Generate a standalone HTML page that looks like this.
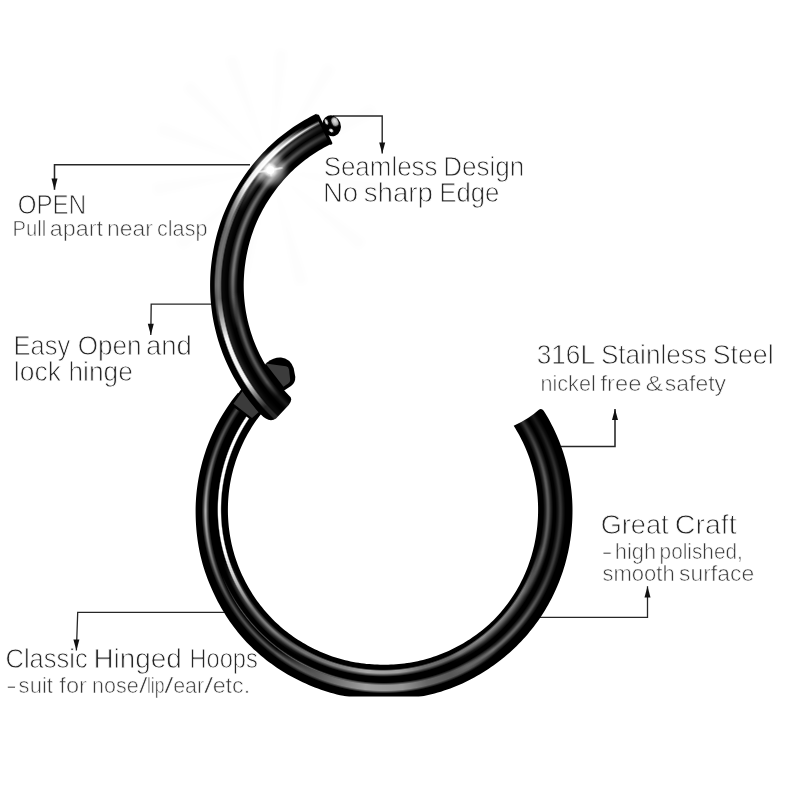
<!DOCTYPE html>
<html><head><meta charset="utf-8"><title>Hinged Hoop</title>
<style>html,body{margin:0;padding:0;background:#fff}body{width:800px;height:800px;position:relative;overflow:hidden;font-family:"Liberation Sans",sans-serif}</style>
</head><body>
<svg width="800" height="800" viewBox="0 0 800 800" style="position:absolute;left:0;top:0"><defs>
<filter id="b1" x="-10%" y="-10%" width="120%" height="120%"><feGaussianBlur stdDeviation="1.3"/></filter>
<filter id="b07" x="-10%" y="-10%" width="120%" height="120%"><feGaussianBlur stdDeviation="0.7"/></filter>
<filter id="b05" x="-20%" y="-20%" width="140%" height="140%"><feGaussianBlur stdDeviation="0.5"/></filter>
<filter id="b3" x="-50%" y="-50%" width="200%" height="200%"><feGaussianBlur stdDeviation="3"/></filter>
<radialGradient id="ball" cx="0.38" cy="0.32" r="0.75"><stop offset="0" stop-color="#8a8a8a"/><stop offset="0.35" stop-color="#3a3a3a"/><stop offset="0.7" stop-color="#0a0a0a"/><stop offset="1" stop-color="#000"/></radialGradient>
<radialGradient id="bh" cx="0.55" cy="0.4" r="0.7"><stop offset="0" stop-color="#e8e8e8"/><stop offset="0.6" stop-color="#b0b0b0"/><stop offset="1" stop-color="#6a6a6a"/></radialGradient>
</defs><g opacity="0.009" filter="url(#b3)" transform="translate(271,169)"><path d="M0 0L-114.8 -35.1L-110.5 -46.9Z" fill="#000"/><path d="M0 0L-89.2 -80.3L-80.3 -89.2Z" fill="#000"/><path d="M0 0L-46.9 -110.5L-35.1 -114.8Z" fill="#000"/><path d="M0 0L4.2 -119.9L16.7 -118.8Z" fill="#000"/><path d="M0 0L54.5 -106.9L65.4 -100.6Z" fill="#000"/><path d="M0 0L100.6 -65.4L106.9 -54.5Z" fill="#000"/><path d="M0 0L119.1 14.6L116.9 27.0Z" fill="#000"/><path d="M0 0L95.8 72.2L87.8 81.8Z" fill="#000"/><path d="M0 0L37.1 114.1L24.9 117.4Z" fill="#000"/><path d="M0 0L-24.9 117.4L-37.1 114.1Z" fill="#000"/><path d="M0 0L-87.8 81.8L-95.8 72.2Z" fill="#000"/><path d="M0 0L-116.9 27.0L-119.1 14.6Z" fill="#000"/></g><path d="M250 164.8 L54.5 164.8 L54.5 189.8" fill="none" stroke="#262626" stroke-width="1.55"/><path d="M51.5 178.60000000000002L57.5 178.60000000000002L54.5 189.8Z" fill="#111"/><path d="M216 304.1 L151.2 304.1 L150.8 335" fill="none" stroke="#262626" stroke-width="1.35"/><path d="M147.8 323.8L153.8 323.8L150.8 335Z" fill="#111"/><path d="M333 116.0 L382.2 116.0 L382.2 153.6" fill="none" stroke="#262626" stroke-width="1.4"/><path d="M379.2 142.4L385.2 142.4L382.2 153.6Z" fill="#111"/><path d="M555 446.4 L615.0 446.4 L615.0 408.9" fill="none" stroke="#262626" stroke-width="1.55"/><path d="M612.0 420.09999999999997L618.0 420.09999999999997L615.0 408.9Z" fill="#111"/><path d="M533 617.4 L647.5 617.4 L647.5 586.2" fill="none" stroke="#262626" stroke-width="1.3"/><path d="M644.5 597.4000000000001L650.5 597.4000000000001L647.5 586.2Z" fill="#111"/><path d="M233 612.4 L77.7 612.4 L76.4 650.6" fill="none" stroke="#262626" stroke-width="1.3"/><path d="M73.4 639.4L79.4 639.4L76.4 650.6Z" fill="#111"/><clipPath id="crop"><rect x="0" y="0" width="800" height="696.6"/></clipPath><path d="M543.68 410.63L545.40 413.42L547.07 416.24L548.69 419.09L550.26 421.97L551.78 424.88L553.25 427.81L554.66 430.76L556.03 433.74L557.34 436.75L558.61 439.77L559.82 442.82L560.97 445.89L562.07 448.98L563.12 452.08L564.12 455.20L565.05 458.35L565.94 461.50L566.77 464.67L567.54 467.86L568.26 471.06L568.93 474.27L569.53 477.49L570.08 480.72L570.58 483.96L571.02 487.21L571.40 490.47L571.73 493.73L571.99 496.99L572.21 500.27L572.36 503.54L572.46 506.82L572.50 510.10L572.48 513.37L572.41 516.65L572.29 519.93L572.11 523.20L571.88 526.47L571.59 529.74L571.24 533.00L570.85 536.25L570.39 539.50L569.88 542.74L569.32 545.97L568.70 549.19L568.03 552.41L567.30 555.61L566.52 558.79L565.69 561.97L564.79 565.13L563.85 568.27L562.85 571.40L561.80 574.51L560.69 577.60L559.53 580.68L558.31 583.73L557.05 586.76L555.73 589.77L554.35 592.76L552.93 595.72L551.45 598.66L549.92 601.57L548.34 604.46L546.71 607.32L545.03 610.14L543.30 612.94L541.52 615.71L539.69 618.45L537.81 621.15L535.88 623.82L533.91 626.45L531.89 629.05L529.82 631.61L527.70 634.14L525.54 636.63L523.34 639.07L521.09 641.48L518.80 643.85L516.47 646.17L514.09 648.46L511.68 650.70L509.23 652.90L506.75 655.06L504.23 657.18L501.67 659.26L499.07 661.29L496.44 663.28L493.78 665.22L491.09 667.11L488.36 668.96L485.60 670.76L482.81 672.52L479.99 674.22L477.14 675.87L474.26 677.48L471.35 679.03L468.42 680.53L465.45 681.98L462.47 683.38L459.46 684.73L456.42 686.02L453.37 687.25L450.29 688.43L447.19 689.56L444.07 690.62L440.93 691.63L437.77 692.57L434.59 693.46L431.40 694.28L428.20 695.05L424.98 695.76L421.75 696.41L418.51 697.00L415.26 697.53L412.00 698.01L408.74 698.43L405.47 698.80L402.19 699.12L398.91 699.38L395.63 699.58L392.34 699.74L389.06 699.84L385.77 699.89L382.48 699.89L379.19 699.85L375.90 699.75L372.62 699.60L369.33 699.41L366.05 699.16L362.78 698.85L359.50 698.50L356.24 698.08L352.98 697.62L349.72 697.09L346.48 696.51L343.25 695.87L340.03 695.18L336.82 694.42L333.62 693.61L330.44 692.73L327.28 691.79L324.14 690.80L321.01 689.74L317.91 688.62L314.83 687.44L311.76 686.22L308.72 684.94L305.70 683.62L302.70 682.25L299.72 680.82L296.77 679.35L293.84 677.82L290.94 676.25L288.06 674.63L285.22 672.95L282.40 671.23L279.61 669.46L276.85 667.64L274.13 665.77L271.44 663.85L268.78 661.89L266.16 659.88L263.57 657.82L261.02 655.72L258.51 653.57L256.04 651.37L253.61 649.13L251.22 646.84L248.88 644.52L246.58 642.14L244.33 639.72L242.12 637.26L239.97 634.75L237.86 632.20L235.81 629.62L233.80 626.99L231.84 624.33L229.94 621.64L228.08 618.91L226.27 616.15L224.51 613.36L222.81 610.54L221.15 607.69L219.54 604.81L217.97 601.91L216.46 598.99L215.00 596.04L213.58 593.07L212.21 590.07L210.89 587.06L209.62 584.03L208.39 580.98L207.21 577.91L206.07 574.82L204.99 571.72L203.97 568.59L203.02 565.44L202.12 562.28L201.29 559.10L200.52 555.90L199.81 552.70L199.16 549.48L198.56 546.25L198.03 543.01L197.55 539.76L197.12 536.51L196.75 533.25L196.43 529.98L196.17 526.71L195.96 523.44L195.79 520.17L195.68 516.89L195.62 513.62L195.60 510.34L195.64 507.07L195.74 503.79L195.90 500.52L196.12 497.25L196.40 493.99L196.74 490.73L197.14 487.48L197.59 484.23L198.10 481.00L198.67 477.78L199.30 474.56L199.98 471.36L200.71 468.17L201.50 464.99L202.34 461.83L203.23 458.69L204.18 455.55L205.18 452.44L206.22 449.34L207.32 446.26L208.47 443.19L209.68 440.15L210.94 437.14L212.26 434.14L213.63 431.17L215.06 428.23L216.53 425.31L218.06 422.42L219.64 419.56L221.28 416.73L222.96 413.93L224.69 411.15L226.46 408.41L228.29 405.70L230.16 403.02L232.07 400.37L234.03 397.76L236.04 395.18L238.08 392.64L262.66 411.99L260.97 414.10L259.32 416.24L257.71 418.41L256.14 420.61L254.60 422.84L253.10 425.09L251.65 427.37L250.23 429.67L248.85 432.00L247.51 434.35L246.21 436.72L244.96 439.12L243.75 441.54L242.58 443.98L241.45 446.43L240.36 448.91L239.32 451.41L238.32 453.92L237.37 456.46L236.45 459.00L235.59 461.57L234.77 464.15L233.99 466.74L233.26 469.34L232.58 471.96L231.94 474.59L231.35 477.23L230.80 479.88L230.30 482.54L229.85 485.21L229.44 487.89L229.08 490.57L228.77 493.26L228.51 495.96L228.29 498.65L228.12 501.36L228.00 504.06L227.93 506.77L227.90 509.47L227.92 512.18L227.98 514.89L228.09 517.59L228.25 520.30L228.45 523.00L228.69 525.69L228.98 528.39L229.32 531.07L229.70 533.75L230.13 536.43L230.61 539.10L231.13 541.75L231.70 544.40L232.32 547.04L232.98 549.67L233.70 552.28L234.45 554.89L235.26 557.48L236.11 560.05L237.01 562.60L237.96 565.15L238.95 567.67L239.98 570.18L241.05 572.67L242.16 575.14L243.32 577.59L244.52 580.02L245.76 582.43L247.04 584.82L248.36 587.19L249.72 589.54L251.13 591.86L252.57 594.15L254.06 596.42L255.58 598.67L257.14 600.89L258.74 603.08L260.38 605.24L262.06 607.37L263.78 609.47L265.53 611.54L267.32 613.58L269.15 615.59L271.01 617.56L272.91 619.50L274.84 621.41L276.81 623.28L278.81 625.11L280.85 626.91L282.92 628.66L285.02 630.39L287.14 632.07L289.30 633.71L291.49 635.32L293.70 636.88L295.95 638.41L298.22 639.90L300.51 641.34L302.83 642.75L305.17 644.11L307.53 645.44L309.92 646.72L312.33 647.97L314.76 649.17L317.21 650.33L319.67 651.45L322.16 652.52L324.66 653.56L327.18 654.55L329.72 655.51L332.27 656.42L334.84 657.28L337.42 658.09L340.02 658.85L342.64 659.57L345.26 660.23L347.90 660.85L350.54 661.42L353.20 661.95L355.86 662.43L358.53 662.86L361.21 663.24L363.90 663.58L366.59 663.88L369.28 664.12L371.98 664.33L374.68 664.49L377.38 664.60L380.08 664.67L382.78 664.70L385.49 664.69L388.19 664.63L390.89 664.54L393.59 664.40L396.29 664.22L398.99 664.00L401.68 663.73L404.37 663.42L407.06 663.06L409.73 662.66L412.40 662.21L415.07 661.72L417.72 661.17L420.37 660.58L423.00 659.94L425.62 659.25L428.23 658.51L430.83 657.71L433.40 656.87L435.97 655.98L438.51 655.04L441.04 654.06L443.55 653.04L446.05 651.98L448.53 650.88L450.99 649.73L453.43 648.55L455.86 647.33L458.26 646.06L460.64 644.76L463.00 643.41L465.33 642.03L467.65 640.60L469.93 639.13L472.20 637.62L474.43 636.08L476.64 634.49L478.82 632.86L480.96 631.19L483.08 629.49L485.17 627.74L487.22 625.96L489.24 624.14L491.23 622.28L493.18 620.38L495.09 618.44L496.97 616.47L498.81 614.47L500.61 612.43L502.38 610.36L504.10 608.26L505.79 606.12L507.43 603.96L509.04 601.76L510.61 599.54L512.13 597.29L513.62 595.01L515.06 592.71L516.46 590.38L517.82 588.03L519.13 585.65L520.41 583.25L521.63 580.83L522.82 578.39L523.96 575.93L525.06 573.45L526.12 570.95L527.13 568.44L528.09 565.90L529.02 563.36L529.89 560.79L530.73 558.22L531.52 555.63L532.26 553.02L532.96 550.41L533.61 547.78L534.22 545.15L534.79 542.50L535.31 539.85L535.78 537.19L536.22 534.52L536.60 531.85L536.94 529.17L537.24 526.48L537.49 523.79L537.70 521.10L537.87 518.40L537.99 515.70L538.07 513.00L538.10 510.30L538.09 507.60L538.03 504.90L537.93 502.21L537.78 499.51L537.58 496.82L537.34 494.13L537.05 491.44L536.71 488.76L536.33 486.09L535.90 483.42L535.43 480.76L534.91 478.11L534.34 475.47L533.73 472.84L533.07 470.22L532.37 467.61L531.62 465.02L530.83 462.43L529.99 459.87L529.11 457.31L528.19 454.77L527.21 452.25L526.20 449.75L525.14 447.26L524.04 444.79L522.89 442.34L521.71 439.92L520.48 437.51L519.21 435.12L517.89 432.76L516.54 430.42L515.14 428.11L513.70 425.82Q529.05 418.81 538.56 410.04Q541.30 407.47 543.68 410.63Z" fill="#000" clip-path="url(#crop)"/></svg>
<div style="position:absolute;left:0;top:0;width:800px;height:696.6px;overflow:hidden"><div style="position:absolute;left:201.70px;top:328.50px;width:364.60px;height:364.60px;background:conic-gradient(from 57.0deg at 50% 50%,rgba(255,255,255,0.100) 0deg,rgba(255,255,255,0.100) 2.0deg,rgba(255,255,255,0.200) 23.0deg,rgba(255,255,255,0.240) 53.0deg,rgba(255,255,255,0.400) 73.0deg,rgba(255,255,255,0.420) 85.0deg,rgba(255,255,255,0.000) 101.0deg,rgba(255,255,255,0) 101.5deg,rgba(255,255,255,0) 360deg);-webkit-mask-image:radial-gradient(circle at 50% 50%,rgba(0,0,0,0) 0px,rgba(0,0,0,0.000) 171.70px,rgba(0,0,0,0.450) 174.10px,rgba(0,0,0,0.930) 175.78px,rgba(0,0,0,1.000) 176.50px,rgba(0,0,0,0.930) 177.22px,rgba(0,0,0,0.450) 178.90px,rgba(0,0,0,0.000) 181.30px);mask-image:radial-gradient(circle at 50% 50%,rgba(0,0,0,0) 0px,rgba(0,0,0,0.000) 171.70px,rgba(0,0,0,0.450) 174.10px,rgba(0,0,0,0.930) 175.78px,rgba(0,0,0,1.000) 176.50px,rgba(0,0,0,0.930) 177.22px,rgba(0,0,0,0.450) 178.90px,rgba(0,0,0,0.000) 181.30px);"></div><div style="position:absolute;left:200.70px;top:327.50px;width:366.60px;height:366.60px;background:conic-gradient(from 57.0deg at 50% 50%,rgba(255,255,255,0.000) 0deg,rgba(255,255,255,0.000) 83.0deg,rgba(255,255,255,0.300) 95.0deg,rgba(255,255,255,0.400) 109.0deg,rgba(255,255,255,0.580) 117.0deg,rgba(255,255,255,0.620) 129.0deg,rgba(255,255,255,0.480) 137.0deg,rgba(255,255,255,0.250) 151.0deg,rgba(255,255,255,0.000) 161.0deg,rgba(255,255,255,0) 161.5deg,rgba(255,255,255,0) 360deg);-webkit-mask-image:radial-gradient(circle at 50% 50%,rgba(0,0,0,0) 0px,rgba(0,0,0,0.000) 171.50px,rgba(0,0,0,0.500) 172.90px,rgba(0,0,0,1.000) 174.30px,rgba(0,0,0,1.000) 179.50px,rgba(0,0,0,0.500) 180.90px,rgba(0,0,0,0.000) 182.30px);mask-image:radial-gradient(circle at 50% 50%,rgba(0,0,0,0) 0px,rgba(0,0,0,0.000) 171.50px,rgba(0,0,0,0.500) 172.90px,rgba(0,0,0,1.000) 174.30px,rgba(0,0,0,1.000) 179.50px,rgba(0,0,0,0.500) 180.90px,rgba(0,0,0,0.000) 182.30px);"></div><div style="position:absolute;left:200.70px;top:327.50px;width:366.60px;height:366.60px;background:conic-gradient(from 57.0deg at 50% 50%,rgba(255,255,255,0.000) 0deg,rgba(255,255,255,0.000) 145.0deg,rgba(255,255,255,0.330) 159.0deg,rgba(255,255,255,0.300) 183.0deg,rgba(255,255,255,0.480) 198.0deg,rgba(255,255,255,0.680) 213.0deg,rgba(255,255,255,0.380) 231.0deg,rgba(255,255,255,0.260) 249.0deg,rgba(255,255,255,0) 249.5deg,rgba(255,255,255,0) 360deg);-webkit-mask-image:radial-gradient(circle at 50% 50%,rgba(0,0,0,0) 0px,rgba(0,0,0,0.000) 174.70px,rgba(0,0,0,0.450) 176.60px,rgba(0,0,0,0.930) 177.93px,rgba(0,0,0,1.000) 178.50px,rgba(0,0,0,0.930) 179.07px,rgba(0,0,0,0.450) 180.40px,rgba(0,0,0,0.000) 182.30px);mask-image:radial-gradient(circle at 50% 50%,rgba(0,0,0,0) 0px,rgba(0,0,0,0.000) 174.70px,rgba(0,0,0,0.450) 176.60px,rgba(0,0,0,0.930) 177.93px,rgba(0,0,0,1.000) 178.50px,rgba(0,0,0,0.930) 179.07px,rgba(0,0,0,0.450) 180.40px,rgba(0,0,0,0.000) 182.30px);"></div><div style="position:absolute;left:212.50px;top:338.90px;width:341.40px;height:341.40px;background:conic-gradient(from 57.0deg at 50% 50%,rgba(255,255,255,0.200) 0deg,rgba(255,255,255,0.200) 2.0deg,rgba(255,255,255,0.360) 23.0deg,rgba(255,255,255,0.360) 48.0deg,rgba(255,255,255,0.000) 65.0deg,rgba(255,255,255,0) 65.5deg,rgba(255,255,255,0) 360deg);-webkit-mask-image:radial-gradient(circle at 50% 50%,rgba(0,0,0,0) 0px,rgba(0,0,0,0.000) 159.70px,rgba(0,0,0,0.450) 162.10px,rgba(0,0,0,0.930) 163.78px,rgba(0,0,0,1.000) 164.50px,rgba(0,0,0,0.930) 165.28px,rgba(0,0,0,0.450) 167.10px,rgba(0,0,0,0.000) 169.70px);mask-image:radial-gradient(circle at 50% 50%,rgba(0,0,0,0) 0px,rgba(0,0,0,0.000) 159.70px,rgba(0,0,0,0.450) 162.10px,rgba(0,0,0,0.930) 163.78px,rgba(0,0,0,1.000) 164.50px,rgba(0,0,0,0.930) 165.28px,rgba(0,0,0,0.450) 167.10px,rgba(0,0,0,0.000) 169.70px);"></div><div style="position:absolute;left:213.10px;top:339.50px;width:340.20px;height:340.20px;background:conic-gradient(from 57.0deg at 50% 50%,rgba(255,255,255,0.000) 0deg,rgba(255,255,255,0.000) 45.0deg,rgba(255,255,255,0.480) 63.0deg,rgba(255,255,255,0.540) 85.0deg,rgba(255,255,255,0.000) 99.0deg,rgba(255,255,255,0) 99.5deg,rgba(255,255,255,0) 360deg);-webkit-mask-image:radial-gradient(circle at 50% 50%,rgba(0,0,0,0) 0px,rgba(0,0,0,0.000) 159.30px,rgba(0,0,0,0.600) 160.30px,rgba(0,0,0,1.000) 161.30px,rgba(0,0,0,0.800) 163.10px,rgba(0,0,0,0.350) 166.10px,rgba(0,0,0,0.000) 169.10px);mask-image:radial-gradient(circle at 50% 50%,rgba(0,0,0,0) 0px,rgba(0,0,0,0.000) 159.30px,rgba(0,0,0,0.600) 160.30px,rgba(0,0,0,1.000) 161.30px,rgba(0,0,0,0.800) 163.10px,rgba(0,0,0,0.350) 166.10px,rgba(0,0,0,0.000) 169.10px);"></div><div style="position:absolute;left:214.90px;top:341.30px;width:336.60px;height:336.60px;background:conic-gradient(from 57.0deg at 50% 50%,rgba(255,255,255,0.000) 0deg,rgba(255,255,255,0.000) 83.0deg,rgba(255,255,255,0.380) 95.0deg,rgba(255,255,255,0.440) 109.0deg,rgba(255,255,255,0.620) 117.0deg,rgba(255,255,255,0.660) 129.0deg,rgba(255,255,255,0.520) 137.0deg,rgba(255,255,255,0.420) 151.0deg,rgba(255,255,255,0.000) 165.0deg,rgba(255,255,255,0) 165.5deg,rgba(255,255,255,0) 360deg);-webkit-mask-image:radial-gradient(circle at 50% 50%,rgba(0,0,0,0) 0px,rgba(0,0,0,0.000) 159.90px,rgba(0,0,0,0.500) 160.70px,rgba(0,0,0,1.000) 161.50px,rgba(0,0,0,1.000) 163.70px,rgba(0,0,0,0.500) 165.50px,rgba(0,0,0,0.000) 167.30px);mask-image:radial-gradient(circle at 50% 50%,rgba(0,0,0,0) 0px,rgba(0,0,0,0.000) 159.90px,rgba(0,0,0,0.500) 160.70px,rgba(0,0,0,1.000) 161.50px,rgba(0,0,0,1.000) 163.70px,rgba(0,0,0,0.500) 165.50px,rgba(0,0,0,0.000) 167.30px);"></div><div style="position:absolute;left:212.50px;top:338.90px;width:341.40px;height:341.40px;background:conic-gradient(from 57.0deg at 50% 50%,rgba(255,255,255,0.000) 0deg,rgba(255,255,255,0.000) 149.0deg,rgba(255,255,255,0.500) 165.0deg,rgba(255,255,255,0.460) 178.0deg,rgba(255,255,255,0.460) 186.0deg,rgba(255,255,255,0.000) 195.0deg,rgba(255,255,255,0) 195.5deg,rgba(255,255,255,0) 360deg);-webkit-mask-image:radial-gradient(circle at 50% 50%,rgba(0,0,0,0) 0px,rgba(0,0,0,0.000) 160.30px,rgba(0,0,0,0.450) 162.00px,rgba(0,0,0,0.930) 163.19px,rgba(0,0,0,1.000) 163.70px,rgba(0,0,0,0.930) 164.60px,rgba(0,0,0,0.450) 166.70px,rgba(0,0,0,0.000) 169.70px);mask-image:radial-gradient(circle at 50% 50%,rgba(0,0,0,0) 0px,rgba(0,0,0,0.000) 160.30px,rgba(0,0,0,0.450) 162.00px,rgba(0,0,0,0.930) 163.19px,rgba(0,0,0,1.000) 163.70px,rgba(0,0,0,0.930) 164.60px,rgba(0,0,0,0.450) 166.70px,rgba(0,0,0,0.000) 169.70px);"></div><div style="position:absolute;left:206.80px;top:333.20px;width:352.80px;height:352.80px;background:conic-gradient(from 57.0deg at 50% 50%,rgba(255,255,255,0.000) 0deg,rgba(255,255,255,0.000) 128.0deg,rgba(255,255,255,0.280) 151.0deg,rgba(255,255,255,0.300) 178.0deg,rgba(255,255,255,0.000) 191.0deg,rgba(255,255,255,0) 191.5deg,rgba(255,255,255,0) 360deg);-webkit-mask-image:radial-gradient(circle at 50% 50%,rgba(0,0,0,0) 0px,rgba(0,0,0,0.000) 173.20px,rgba(0,0,0,0.450) 173.75px,rgba(0,0,0,0.930) 174.13px,rgba(0,0,0,1.000) 174.30px,rgba(0,0,0,0.930) 174.46px,rgba(0,0,0,0.450) 174.85px,rgba(0,0,0,0.000) 175.40px);mask-image:radial-gradient(circle at 50% 50%,rgba(0,0,0,0) 0px,rgba(0,0,0,0.000) 173.20px,rgba(0,0,0,0.450) 173.75px,rgba(0,0,0,0.930) 174.13px,rgba(0,0,0,1.000) 174.30px,rgba(0,0,0,0.930) 174.46px,rgba(0,0,0,0.450) 174.85px,rgba(0,0,0,0.000) 175.40px);"></div><div style="position:absolute;left:216.35px;top:342.75px;width:333.70px;height:333.70px;background:conic-gradient(from 57.0deg at 50% 50%,rgba(255,255,255,0.000) 0deg,rgba(255,255,255,0.000) 175.0deg,rgba(255,255,255,0.350) 183.0deg,rgba(255,255,255,0.800) 190.0deg,rgba(255,255,255,1.000) 198.0deg,rgba(255,255,255,1.000) 247.0deg,rgba(255,255,255,0.700) 250.0deg,rgba(255,255,255,0) 250.5deg,rgba(255,255,255,0) 360deg);-webkit-mask-image:radial-gradient(circle at 50% 50%,rgba(0,0,0,0) 0px,rgba(0,0,0,0.000) 161.35px,rgba(0,0,0,0.500) 161.97px,rgba(0,0,0,1.000) 162.60px,rgba(0,0,0,1.000) 164.60px,rgba(0,0,0,0.500) 165.22px,rgba(0,0,0,0.000) 165.85px);mask-image:radial-gradient(circle at 50% 50%,rgba(0,0,0,0) 0px,rgba(0,0,0,0.000) 161.35px,rgba(0,0,0,0.500) 161.97px,rgba(0,0,0,1.000) 162.60px,rgba(0,0,0,1.000) 164.60px,rgba(0,0,0,0.500) 165.22px,rgba(0,0,0,0.000) 165.85px);"></div></div>
<svg width="800" height="800" viewBox="0 0 800 800" style="position:absolute;left:0;top:0"><defs>
<filter id="b1" x="-10%" y="-10%" width="120%" height="120%"><feGaussianBlur stdDeviation="1.3"/></filter>
<filter id="b07" x="-10%" y="-10%" width="120%" height="120%"><feGaussianBlur stdDeviation="0.7"/></filter>
<filter id="b05" x="-20%" y="-20%" width="140%" height="140%"><feGaussianBlur stdDeviation="0.5"/></filter>
<filter id="b3" x="-50%" y="-50%" width="200%" height="200%"><feGaussianBlur stdDeviation="3"/></filter>
<radialGradient id="ball" cx="0.38" cy="0.32" r="0.75"><stop offset="0" stop-color="#8a8a8a"/><stop offset="0.35" stop-color="#3a3a3a"/><stop offset="0.7" stop-color="#0a0a0a"/><stop offset="1" stop-color="#000"/></radialGradient>
<radialGradient id="bh" cx="0.55" cy="0.4" r="0.7"><stop offset="0" stop-color="#e8e8e8"/><stop offset="0.6" stop-color="#b0b0b0"/><stop offset="1" stop-color="#6a6a6a"/></radialGradient>
</defs><path d="M230.5 404.5L242.5 387.5L263 412L253 421.5Z" fill="#000"/><path d="M233.5 403.7L243 390.5L260 411L252 418Z" fill="#3b3b3b"/><path d="M262 368L267 362.5Q274 357.2 281 357.6Q290 358.6 293.6 368L295.3 377Q295.4 383 291 386L281 392.5Z" fill="#000"/><path d="M265.5 363.6L286 366.2Q288.6 366.8 289 369.5L290.2 380Q290.2 382.2 288.2 383.6L283.5 386.8Z" fill="#3c3c3c"/><path d="M316.33 113.81L313.36 115.29L310.41 116.83L307.49 118.42L304.60 120.06L301.73 121.75L298.90 123.49L296.10 125.27L293.32 127.10L290.58 128.98L287.87 130.91L285.20 132.89L282.57 134.92L279.98 137.00L277.42 139.12L274.91 141.30L272.44 143.52L270.01 145.78L267.62 148.09L265.27 150.44L262.97 152.83L260.71 155.26L258.49 157.73L256.32 160.23L254.19 162.78L252.11 165.35L250.07 167.97L248.07 170.61L246.12 173.29L244.21 176.00L242.35 178.74L240.53 181.51L238.76 184.31L237.03 187.13L235.34 189.98L233.70 192.86L232.12 195.77L230.59 198.70L229.12 201.67L227.70 204.66L226.33 207.68L225.03 210.72L223.77 213.78L222.57 216.87L221.43 219.97L220.35 223.10L219.31 226.24L218.34 229.40L217.42 232.58L216.55 235.77L215.74 238.97L214.98 242.19L214.28 245.42L213.63 248.66L213.04 251.91L212.50 255.17L212.02 258.44L211.59 261.71L211.21 265.00L210.88 268.28L210.61 271.57L210.40 274.87L210.24 278.17L210.14 281.47L210.10 284.77L210.12 288.08L210.19 291.38L210.32 294.68L210.51 297.98L210.76 301.27L211.06 304.56L211.42 307.84L211.84 311.12L212.31 314.39L212.85 317.65L213.43 320.90L214.08 324.14L214.78 327.36L215.54 330.58L216.35 333.78L217.22 336.97L218.14 340.14L219.12 343.29L220.16 346.43L221.25 349.55L222.39 352.65L223.58 355.72L224.83 358.78L226.14 361.82L227.49 364.83L228.90 367.82L230.36 370.78L231.87 373.72L233.43 376.63L235.05 379.51L236.71 382.36L238.42 385.19L240.18 387.98L241.99 390.74L243.85 393.48L245.75 396.17L247.71 398.84L249.70 401.47L251.75 404.07L253.83 406.62L255.97 409.15L258.14 411.63L260.36 414.08Q268.84 423.39 276.08 418.53L288.74 404.90Q293.66 398.82 289.01 395.42L287.11 393.48L285.24 391.50L283.41 389.48L281.62 387.44L279.86 385.37L278.13 383.26L276.45 381.13L274.80 378.96L273.19 376.77L271.61 374.55L270.08 372.30L268.59 370.03L267.13 367.73L265.72 365.41L264.35 363.06L263.02 360.69L261.73 358.29L260.48 355.88L259.27 353.44L258.11 350.98L256.99 348.50L255.91 346.00L254.88 343.49L253.89 340.95L252.94 338.40L252.04 335.83L251.19 333.25L250.38 330.66L249.61 328.05L248.89 325.42L248.22 322.79L247.59 320.14L247.01 317.48L246.48 314.81L245.99 312.14L245.55 309.45L245.16 306.76L244.81 304.07L244.51 301.36L244.26 298.65L244.05 295.94L243.89 293.23L243.78 290.51L243.72 287.79L243.70 285.07L243.73 282.35L243.81 279.63L243.94 276.91L244.11 274.20L244.33 271.49L244.60 268.78L244.90 266.08L245.25 263.38L245.65 260.69L246.09 258.00L246.57 255.32L247.10 252.65L247.67 249.99L248.28 247.34L248.94 244.70L249.65 242.07L250.40 239.45L251.20 236.84L252.04 234.25L252.93 231.67L253.87 229.11L254.85 226.57L255.87 224.04L256.95 221.53L258.06 219.05L259.23 216.58L260.44 214.13L261.70 211.71L263.00 209.31L264.35 206.94L265.73 204.59L267.16 202.26L268.61 199.95L270.11 197.67L271.64 195.41L273.21 193.17L274.81 190.96L276.45 188.78L278.12 186.62L279.84 184.49L281.59 182.39L283.37 180.31L285.19 178.27L287.05 176.26L288.94 174.29L290.87 172.34L292.83 170.44L294.83 168.56L296.87 166.73L298.94 164.93L301.04 163.18L303.17 161.46L305.34 159.78L307.54 158.15L309.78 156.56L312.04 155.01L314.32 153.50L316.64 152.02L318.97 150.59L321.33 149.20L323.72 147.84L326.12 146.53L328.55 145.26L331.01 144.03Z" fill="#000"/></svg>
<div style="position:absolute;left:0;top:0;width:800px;height:800px;overflow:hidden"><div style="position:absolute;left:216.60px;top:102.40px;width:366.20px;height:366.20px;background:conic-gradient(from 220.0deg at 50% 50%,rgba(255,255,255,0.040) 0deg,rgba(255,255,255,0.040) 9.0deg,rgba(255,255,255,0.120) 20.0deg,rgba(255,255,255,0.120) 35.0deg,rgba(255,255,255,0.040) 46.0deg,rgba(255,255,255,0.040) 75.0deg,rgba(255,255,255,0.300) 85.0deg,rgba(255,255,255,0.500) 92.0deg,rgba(255,255,255,0.300) 100.0deg,rgba(255,255,255,0.100) 113.5deg,rgba(255,255,255,0) 114.0deg,rgba(255,255,255,0) 360deg);-webkit-mask-image:radial-gradient(circle at 50% 50%,rgba(0,0,0,0) 0px,rgba(0,0,0,0.000) 172.10px,rgba(0,0,0,0.450) 174.60px,rgba(0,0,0,0.930) 176.35px,rgba(0,0,0,1.000) 177.10px,rgba(0,0,0,0.930) 177.85px,rgba(0,0,0,0.450) 179.60px,rgba(0,0,0,0.000) 182.10px);mask-image:radial-gradient(circle at 50% 50%,rgba(0,0,0,0) 0px,rgba(0,0,0,0.000) 172.10px,rgba(0,0,0,0.450) 174.60px,rgba(0,0,0,0.930) 176.35px,rgba(0,0,0,1.000) 177.10px,rgba(0,0,0,0.930) 177.85px,rgba(0,0,0,0.450) 179.60px,rgba(0,0,0,0.000) 182.10px);"></div><div style="position:absolute;left:214.50px;top:100.30px;width:370.40px;height:370.40px;background:conic-gradient(from 220.0deg at 50% 50%,rgba(255,255,255,0.000) 0deg,rgba(255,255,255,0.000) 9.0deg,rgba(255,255,255,0.000) 15.0deg,rgba(255,255,255,0.000) 20.0deg,rgba(255,255,255,0.000) 32.0deg,rgba(255,255,255,0.000) 39.0deg,rgba(255,255,255,0.100) 46.0deg,rgba(255,255,255,0.100) 73.0deg,rgba(255,255,255,0.500) 82.0deg,rgba(255,255,255,0.900) 88.0deg,rgba(255,255,255,1.000) 92.0deg,rgba(255,255,255,0.950) 96.0deg,rgba(255,255,255,0.950) 102.0deg,rgba(255,255,255,0.800) 109.0deg,rgba(255,255,255,0.500) 113.5deg,rgba(255,255,255,0) 114.0deg,rgba(255,255,255,0) 360deg);-webkit-mask-image:radial-gradient(circle at 50% 50%,rgba(0,0,0,0) 0px,rgba(0,0,0,0.000) 179.40px,rgba(0,0,0,0.450) 180.60px,rgba(0,0,0,0.930) 181.44px,rgba(0,0,0,1.000) 181.80px,rgba(0,0,0,0.930) 182.16px,rgba(0,0,0,0.450) 183.00px,rgba(0,0,0,0.000) 184.20px);mask-image:radial-gradient(circle at 50% 50%,rgba(0,0,0,0) 0px,rgba(0,0,0,0.000) 179.40px,rgba(0,0,0,0.450) 180.60px,rgba(0,0,0,0.930) 181.44px,rgba(0,0,0,1.000) 181.80px,rgba(0,0,0,0.930) 182.16px,rgba(0,0,0,0.450) 183.00px,rgba(0,0,0,0.000) 184.20px);"></div><div style="position:absolute;left:226.50px;top:112.30px;width:346.40px;height:346.40px;background:conic-gradient(from 220.0deg at 50% 50%,rgba(255,255,255,0.000) 0deg,rgba(255,255,255,0.000) 9.0deg,rgba(255,255,255,0.000) 35.0deg,rgba(255,255,255,0.360) 46.0deg,rgba(255,255,255,0.460) 55.0deg,rgba(255,255,255,0.440) 75.0deg,rgba(255,255,255,0.360) 95.0deg,rgba(255,255,255,0.200) 113.5deg,rgba(255,255,255,0) 114.0deg,rgba(255,255,255,0) 360deg);-webkit-mask-image:radial-gradient(circle at 50% 50%,rgba(0,0,0,0) 0px,rgba(0,0,0,0.000) 162.20px,rgba(0,0,0,0.450) 164.70px,rgba(0,0,0,0.930) 166.45px,rgba(0,0,0,1.000) 167.20px,rgba(0,0,0,0.930) 167.95px,rgba(0,0,0,0.450) 169.70px,rgba(0,0,0,0.000) 172.20px);mask-image:radial-gradient(circle at 50% 50%,rgba(0,0,0,0) 0px,rgba(0,0,0,0.000) 162.20px,rgba(0,0,0,0.450) 164.70px,rgba(0,0,0,0.930) 166.45px,rgba(0,0,0,1.000) 167.20px,rgba(0,0,0,0.930) 167.95px,rgba(0,0,0,0.450) 169.70px,rgba(0,0,0,0.000) 172.20px);"></div><div style="position:absolute;left:214.50px;top:100.30px;width:370.40px;height:370.40px;background:conic-gradient(from 220.0deg at 50% 50%,rgba(255,255,255,0.150) 0deg,rgba(255,255,255,0.150) 8.0deg,rgba(255,255,255,0.500) 13.0deg,rgba(255,255,255,0.950) 18.0deg,rgba(255,255,255,0.970) 33.0deg,rgba(255,255,255,0.600) 39.0deg,rgba(255,255,255,0.000) 46.0deg,rgba(255,255,255,0) 46.5deg,rgba(255,255,255,0) 360deg);-webkit-mask-image:radial-gradient(circle at 50% 50%,rgba(0,0,0,0) 0px,rgba(0,0,0,0.000) 178.10px,rgba(0,0,0,0.500) 178.85px,rgba(0,0,0,1.000) 179.60px,rgba(0,0,0,1.000) 182.70px,rgba(0,0,0,0.500) 183.45px,rgba(0,0,0,0.000) 184.20px);mask-image:radial-gradient(circle at 50% 50%,rgba(0,0,0,0) 0px,rgba(0,0,0,0.000) 178.10px,rgba(0,0,0,0.500) 178.85px,rgba(0,0,0,1.000) 179.60px,rgba(0,0,0,1.000) 182.70px,rgba(0,0,0,0.500) 183.45px,rgba(0,0,0,0.000) 184.20px);"></div><div style="position:absolute;left:229.70px;top:115.50px;width:340.00px;height:340.00px;background:conic-gradient(from 220.0deg at 50% 50%,rgba(255,255,255,0.100) 0deg,rgba(255,255,255,0.100) 8.0deg,rgba(255,255,255,0.320) 14.0deg,rgba(255,255,255,0.360) 35.0deg,rgba(255,255,255,0.000) 48.0deg,rgba(255,255,255,0) 48.5deg,rgba(255,255,255,0) 360deg);-webkit-mask-image:radial-gradient(circle at 50% 50%,rgba(0,0,0,0) 0px,rgba(0,0,0,0.000) 159.50px,rgba(0,0,0,0.450) 161.75px,rgba(0,0,0,0.930) 163.32px,rgba(0,0,0,1.000) 164.00px,rgba(0,0,0,0.930) 164.75px,rgba(0,0,0,0.450) 166.50px,rgba(0,0,0,0.000) 169.00px);mask-image:radial-gradient(circle at 50% 50%,rgba(0,0,0,0) 0px,rgba(0,0,0,0.000) 159.50px,rgba(0,0,0,0.450) 161.75px,rgba(0,0,0,0.930) 163.32px,rgba(0,0,0,1.000) 164.00px,rgba(0,0,0,0.930) 164.75px,rgba(0,0,0,0.450) 166.50px,rgba(0,0,0,0.000) 169.00px);"></div><div style="position:absolute;left:213.10px;top:98.90px;width:373.20px;height:373.20px;background:conic-gradient(from 220.0deg at 50% 50%,rgba(255,255,255,0.000) 0deg,rgba(255,255,255,0.000) 32.0deg,rgba(255,255,255,0.300) 42.0deg,rgba(255,255,255,0.400) 50.0deg,rgba(255,255,255,0.380) 70.0deg,rgba(255,255,255,0.200) 80.0deg,rgba(255,255,255,0.000) 86.0deg,rgba(255,255,255,0) 86.5deg,rgba(255,255,255,0) 360deg);-webkit-mask-image:radial-gradient(circle at 50% 50%,rgba(0,0,0,0) 0px,rgba(0,0,0,0.000) 177.60px,rgba(0,0,0,0.500) 178.40px,rgba(0,0,0,1.000) 179.20px,rgba(0,0,0,1.000) 184.00px,rgba(0,0,0,0.500) 184.80px,rgba(0,0,0,0.000) 185.60px);mask-image:radial-gradient(circle at 50% 50%,rgba(0,0,0,0) 0px,rgba(0,0,0,0.000) 177.60px,rgba(0,0,0,0.500) 178.40px,rgba(0,0,0,1.000) 179.20px,rgba(0,0,0,1.000) 184.00px,rgba(0,0,0,0.500) 184.80px,rgba(0,0,0,0.000) 185.60px);"></div><div style="position:absolute;left:212.30px;top:98.10px;width:374.80px;height:374.80px;background:conic-gradient(from 220.0deg at 50% 50%,rgba(255,255,255,0.000) 0deg,rgba(255,255,255,0.000) 68.0deg,rgba(255,255,255,0.450) 77.0deg,rgba(255,255,255,0.920) 83.0deg,rgba(255,255,255,0.950) 97.0deg,rgba(255,255,255,0.500) 103.0deg,rgba(255,255,255,0.000) 109.0deg,rgba(255,255,255,0) 109.5deg,rgba(255,255,255,0) 360deg);-webkit-mask-image:radial-gradient(circle at 50% 50%,rgba(0,0,0,0) 0px,rgba(0,0,0,0.000) 179.80px,rgba(0,0,0,0.500) 180.60px,rgba(0,0,0,1.000) 181.40px,rgba(0,0,0,1.000) 184.80px,rgba(0,0,0,0.500) 185.60px,rgba(0,0,0,0.000) 186.40px);mask-image:radial-gradient(circle at 50% 50%,rgba(0,0,0,0) 0px,rgba(0,0,0,0.000) 179.80px,rgba(0,0,0,0.500) 180.60px,rgba(0,0,0,1.000) 181.40px,rgba(0,0,0,1.000) 184.80px,rgba(0,0,0,0.500) 185.60px,rgba(0,0,0,0.000) 186.40px);"></div></div>
<svg width="800" height="800" viewBox="0 0 800 800" style="position:absolute;left:0;top:0"><defs>
<filter id="b1" x="-10%" y="-10%" width="120%" height="120%"><feGaussianBlur stdDeviation="1.3"/></filter>
<filter id="b07" x="-10%" y="-10%" width="120%" height="120%"><feGaussianBlur stdDeviation="0.7"/></filter>
<filter id="b05" x="-20%" y="-20%" width="140%" height="140%"><feGaussianBlur stdDeviation="0.5"/></filter>
<filter id="b3" x="-50%" y="-50%" width="200%" height="200%"><feGaussianBlur stdDeviation="3"/></filter>
<radialGradient id="ball" cx="0.38" cy="0.32" r="0.75"><stop offset="0" stop-color="#8a8a8a"/><stop offset="0.35" stop-color="#3a3a3a"/><stop offset="0.7" stop-color="#0a0a0a"/><stop offset="1" stop-color="#000"/></radialGradient>
<radialGradient id="bh" cx="0.55" cy="0.4" r="0.7"><stop offset="0" stop-color="#e8e8e8"/><stop offset="0.6" stop-color="#b0b0b0"/><stop offset="1" stop-color="#6a6a6a"/></radialGradient>
</defs><path d="M317.75 115.97L330.85 143.07" stroke="#000" stroke-width="3" stroke-linecap="round"/><ellipse cx="331.6" cy="125.7" rx="9.1" ry="10.6" fill="#000" transform="rotate(-20 331.6 125.7)"/><ellipse cx="334.9" cy="121.9" rx="3.3" ry="4.6" fill="url(#bh)" transform="rotate(-25 334.9 121.9)" filter="url(#b05)"/><ellipse cx="326.4" cy="121.9" rx="1.3" ry="2.8" fill="#f4f4f4" transform="rotate(-22 326.4 121.9)" filter="url(#b05)"/><ellipse cx="331.2" cy="130.5" rx="2.2" ry="1.6" fill="#f4f4f4" transform="rotate(35 331.2 130.5)" filter="url(#b05)"/><g transform="translate(270.3,170)"><circle r="15" fill="#fff" opacity="0.5" filter="url(#b3)"/><ellipse rx="13" ry="1.3" fill="#fff" opacity="0.75" transform="rotate(-10)" filter="url(#b05)"/><ellipse rx="1.2" ry="7" fill="#fff" opacity="0.6" transform="rotate(-10)" filter="url(#b05)"/><circle r="6.5" fill="#fff" opacity="0.8" filter="url(#b1)"/><circle r="4" fill="#fff" filter="url(#b07)"/></g><g style="font-family:'Liberation Sans',sans-serif" stroke="#fff" stroke-linejoin="round" opacity="0.995"><text x="323.63" y="176.4" font-size="28.3" textLength="113.92" lengthAdjust="spacingAndGlyphs" fill="#262626" stroke-width="0.85">Seamless</text><text x="443.14" y="176.4" font-size="28.3" textLength="81.23" lengthAdjust="spacingAndGlyphs" fill="#262626" stroke-width="0.85">Design</text><text x="322.90" y="202.3" font-size="28.3" textLength="35.31" lengthAdjust="spacingAndGlyphs" fill="#262626" stroke-width="0.85">No</text><text x="363.65" y="202.3" font-size="28.3" textLength="69.37" lengthAdjust="spacingAndGlyphs" fill="#262626" stroke-width="0.85">sharp</text><text x="439.24" y="202.3" font-size="28.3" textLength="60.18" lengthAdjust="spacingAndGlyphs" fill="#262626" stroke-width="0.85">Edge</text><text x="17.79" y="213.70000000000002" font-size="28.1" textLength="68.30" lengthAdjust="spacingAndGlyphs" fill="#262626" stroke-width="0.85">OPEN</text><text x="12.54" y="236.10000000000002" font-size="21.2" textLength="33.69" lengthAdjust="spacingAndGlyphs" fill="#3a3a3a" stroke-width="0.6">Pull</text><text x="49.74" y="236.10000000000002" font-size="21.2" textLength="53.29" lengthAdjust="spacingAndGlyphs" fill="#3a3a3a" stroke-width="0.6">apart</text><text x="107.10" y="236.10000000000002" font-size="21.2" textLength="45.82" lengthAdjust="spacingAndGlyphs" fill="#3a3a3a" stroke-width="0.6">near</text><text x="157.04" y="236.10000000000002" font-size="21.2" textLength="50.41" lengthAdjust="spacingAndGlyphs" fill="#3a3a3a" stroke-width="0.6">clasp</text><text x="13.56" y="355.2" font-size="28.3" textLength="56.68" lengthAdjust="spacingAndGlyphs" fill="#262626" stroke-width="0.85">Easy</text><text x="77.74" y="355.2" font-size="28.3" textLength="63.90" lengthAdjust="spacingAndGlyphs" fill="#262626" stroke-width="0.85">Open</text><text x="145.98" y="355.2" font-size="28.3" textLength="45.98" lengthAdjust="spacingAndGlyphs" fill="#262626" stroke-width="0.85">and</text><text x="13.87" y="381.4" font-size="28.3" textLength="47.04" lengthAdjust="spacingAndGlyphs" fill="#262626" stroke-width="0.85">lock</text><text x="68.49" y="381.4" font-size="28.3" textLength="64.31" lengthAdjust="spacingAndGlyphs" fill="#262626" stroke-width="0.85">hinge</text><text x="536.66" y="364.15" font-size="28.3" textLength="58.39" lengthAdjust="spacingAndGlyphs" fill="#262626" stroke-width="0.85">316L</text><text x="600.88" y="364.15" font-size="28.3" textLength="106.05" lengthAdjust="spacingAndGlyphs" fill="#262626" stroke-width="0.85">Stainless</text><text x="712.71" y="364.15" font-size="28.3" textLength="60.87" lengthAdjust="spacingAndGlyphs" fill="#262626" stroke-width="0.85">Steel</text><text x="540.53" y="390.7" font-size="21.2" textLength="55.22" lengthAdjust="spacingAndGlyphs" fill="#3a3a3a" stroke-width="0.6">nickel</text><text x="600.50" y="390.7" font-size="21.2" textLength="40.86" lengthAdjust="spacingAndGlyphs" fill="#3a3a3a" stroke-width="0.6">free</text><text x="645.45" y="390.7" font-size="21.2" textLength="17.80" lengthAdjust="spacingAndGlyphs" fill="#3a3a3a" stroke-width="0.6">&amp;</text><text x="664.76" y="390.7" font-size="21.2" textLength="61.26" lengthAdjust="spacingAndGlyphs" fill="#3a3a3a" stroke-width="0.6">safety</text><text x="600.68" y="533.5" font-size="28.3" textLength="67.95" lengthAdjust="spacingAndGlyphs" fill="#262626" stroke-width="0.85">Great</text><text x="674.78" y="533.5" font-size="28.3" textLength="61.88" lengthAdjust="spacingAndGlyphs" fill="#262626" stroke-width="0.85">Craft</text><text x="601.44" y="559.3" font-size="21.2" textLength="11.13" lengthAdjust="spacingAndGlyphs" fill="#3a3a3a" stroke-width="0.6">-</text><text x="614.77" y="559.3" font-size="21.2" textLength="41.49" lengthAdjust="spacingAndGlyphs" fill="#3a3a3a" stroke-width="0.6">high</text><text x="659.62" y="559.3" font-size="21.2" textLength="83.16" lengthAdjust="spacingAndGlyphs" fill="#3a3a3a" stroke-width="0.6">polished,</text><text x="602.47" y="581.3" font-size="21.2" textLength="72.26" lengthAdjust="spacingAndGlyphs" fill="#3a3a3a" stroke-width="0.6">smooth</text><text x="678.91" y="581.3" font-size="21.2" textLength="75.30" lengthAdjust="spacingAndGlyphs" fill="#3a3a3a" stroke-width="0.6">surface</text><text x="5.51" y="667.9" font-size="28.3" textLength="82.16" lengthAdjust="spacingAndGlyphs" fill="#262626" stroke-width="0.85">Classic</text><text x="93.43" y="667.9" font-size="28.3" textLength="88.46" lengthAdjust="spacingAndGlyphs" fill="#262626" stroke-width="0.85">Hinged</text><text x="189.41" y="667.9" font-size="28.3" textLength="68.34" lengthAdjust="spacingAndGlyphs" fill="#262626" stroke-width="0.85">Hoops</text><text x="5.83" y="693.4" font-size="21.2" textLength="11.32" lengthAdjust="spacingAndGlyphs" fill="#3a3a3a" stroke-width="0.6">-</text><text x="18.63" y="693.4" font-size="21.2" textLength="34.34" lengthAdjust="spacingAndGlyphs" fill="#3a3a3a" stroke-width="0.6">suit</text><text x="59.38" y="693.4" font-size="21.2" textLength="27.56" lengthAdjust="spacingAndGlyphs" fill="#3a3a3a" stroke-width="0.6">for</text><text x="92.12" y="693.4" font-size="21.2" textLength="46.60" lengthAdjust="spacingAndGlyphs" fill="#3a3a3a" stroke-width="0.6">nose</text><text x="139.10" y="693.4" font-size="21.2" textLength="8.50" lengthAdjust="spacingAndGlyphs" fill="#3a3a3a" stroke-width="0.6">/</text><text x="146.94" y="693.4" font-size="21.2" textLength="17.60" lengthAdjust="spacingAndGlyphs" fill="#3a3a3a" stroke-width="0.6">lip</text><text x="164.30" y="693.4" font-size="21.2" textLength="9.20" lengthAdjust="spacingAndGlyphs" fill="#3a3a3a" stroke-width="0.6">/</text><text x="173.20" y="693.4" font-size="21.2" textLength="30.99" lengthAdjust="spacingAndGlyphs" fill="#3a3a3a" stroke-width="0.6">ear</text><text x="204.10" y="693.4" font-size="21.2" textLength="9.20" lengthAdjust="spacingAndGlyphs" fill="#3a3a3a" stroke-width="0.6">/</text><text x="212.67" y="693.4" font-size="21.2" textLength="37.52" lengthAdjust="spacingAndGlyphs" fill="#3a3a3a" stroke-width="0.6">etc.</text></g></svg>
</body></html>
